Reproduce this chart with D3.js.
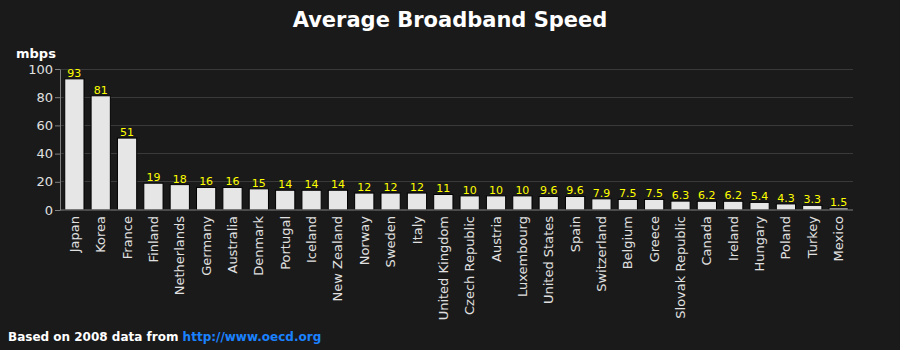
<!DOCTYPE html>
<html>
<head>
<meta charset="utf-8">
<script src="https://cdn.jsdelivr.net/npm/d3@7"></script>
<style>
  html, body { margin: 0; padding: 0; background: #1a1a1a; }
  svg { display: block; font-family: "DejaVu Sans", sans-serif; }
</style>
</head>
<body>
<svg id="chart" width="900" height="350"></svg>
<script>
const countries = ["Japan","Korea","France","Finland","Netherlands","Germany","Australia","Denmark","Portugal","Iceland","New Zealand","Norway","Sweden","Italy","United Kingdom","Czech Republic","Austria","Luxembourg","United States","Spain","Switzerland","Belgium","Greece","Slovak Republic","Canada","Ireland","Hungary","Poland","Turkey","Mexico"];
const speeds = [93,81,51,19,18,16,16,15,14,14,14,12,12,12,11,10,10,10,9.6,9.6,7.9,7.5,7.5,6.3,6.2,6.2,5.4,4.3,3.3,1.5];
const yTicks = [0,20,40,60,80,100];

const svg = d3.select("#chart");
const W = 900, H = 350;
const m = { left: 60, right: 47, top: 69, bottom: 140 };

svg.append("rect").attr("width", W).attr("height", H).attr("fill", "#1a1a1a");

const x = d3.scaleBand().domain(countries).range([m.left, W - m.right]).paddingInner(0.27).paddingOuter(0.18);
const y = d3.scaleLinear().domain([0, 100]).range([H - m.bottom, m.top]);

// horizontal grid
svg.append("g").selectAll("line").data(yTicks.filter(d => d > 0)).join("line")
  .attr("x1", m.left).attr("x2", W - m.right)
  .attr("y1", d => y(d)).attr("y2", d => y(d))
  .attr("stroke", "#3a3a3a").attr("stroke-width", 1).attr("shape-rendering", "crispEdges");

// y axis
const yAxis = svg.append("g").attr("transform", `translate(${m.left},0)`)
  .call(d3.axisLeft(y).tickValues(yTicks).tickSize(5).tickSizeOuter(0));
yAxis.select(".domain").attr("stroke", "#808080");
yAxis.selectAll(".tick line").attr("stroke", "#808080");
yAxis.selectAll(".tick text").attr("fill", "#e0e0e0").attr("font-size", 13).attr("font-family", "DejaVu Sans, sans-serif").attr("x", -7);

// bars
svg.append("g").selectAll("rect").data(countries).join("rect")
  .attr("x", d => x(d)).attr("width", x.bandwidth())
  .attr("y", (d, i) => y(speeds[i])).attr("height", (d, i) => y(0) - y(speeds[i]))
  .attr("fill", "#e6e6e6").attr("stroke", "#000").attr("stroke-width", 1);

// value labels
svg.append("g").selectAll("text").data(countries).join("text")
  .attr("x", d => x(d) + x.bandwidth() / 2)
  .attr("y", (d, i) => y(speeds[i]) - 2)
  .attr("text-anchor", "middle").attr("fill", "#ffff00")
  .attr("font-size", 11).text((d, i) => speeds[i]);

// x axis
const xAxis = svg.append("g").attr("transform", `translate(0,${y(0)})`)
  .call(d3.axisBottom(x).tickSize(0).tickSizeOuter(0));
xAxis.select(".domain").attr("stroke", "#808080").attr("d", `M${m.left},0H${W - m.right}`);
xAxis.selectAll(".tick text")
  .attr("fill", "#e0e0e0").attr("font-size", 13).attr("font-family", "DejaVu Sans, sans-serif")
  .attr("transform", "rotate(-90)")
  .attr("text-anchor", "end").attr("x", -6).attr("y", 0).attr("dy", "0.35em");

// titles
svg.append("text").attr("x", 450).attr("y", 27).attr("text-anchor", "middle")
  .attr("fill", "#ffffff").attr("font-size", 21).attr("font-weight", "bold")
  .text("Average Broadband Speed");
svg.append("text").attr("x", 16).attr("y", 58)
  .attr("fill", "#ffffff").attr("font-size", 13).attr("font-weight", "bold").text("mbps");

const foot = svg.append("text").attr("x", 8).attr("y", 341)
  .attr("font-size", 12).attr("font-weight", "bold");
foot.append("tspan").attr("fill", "#ffffff").text("Based on 2008 data from ");
foot.append("tspan").attr("fill", "#1a82ff").text("http://www.oecd.org");
</script>
</body>
</html>
